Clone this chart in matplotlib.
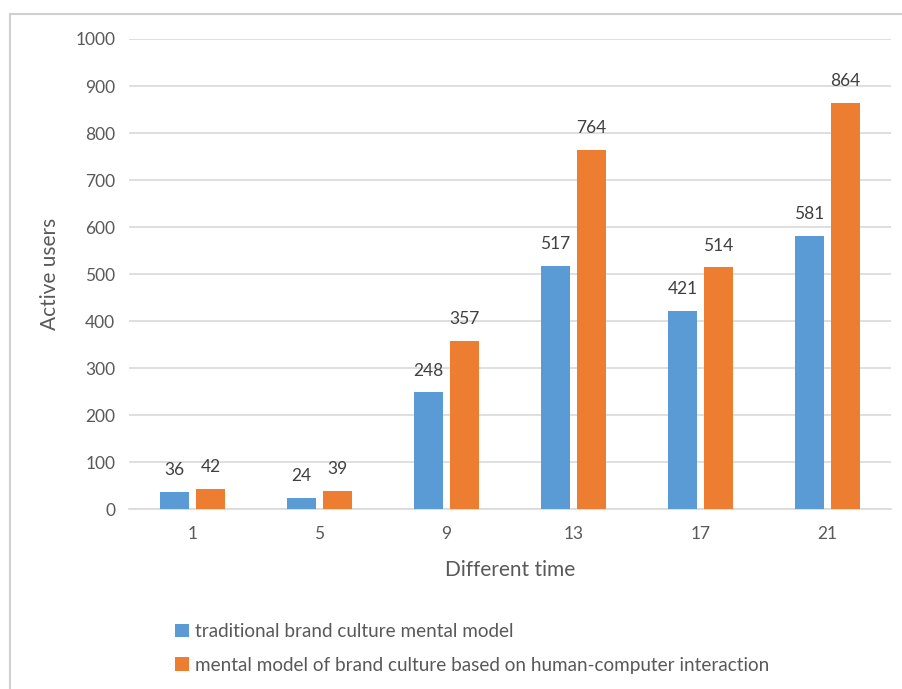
import numpy as np
import matplotlib
matplotlib.use("Agg")
import matplotlib.pyplot as plt
from matplotlib.patches import Rectangle

plt.rcParams['font.family'] = ['Lato', 'DejaVu Sans']

# Datos de usuarios activos por tiempo
tiempos = ['1', '5', '9', '13', '17', '21']
tradicional = [36, 24, 248, 517, 421, 581]
interaccion = [42, 39, 357, 764, 514, 864]

nombres = ['traditional brand culture mental model',
           'mental model of brand culture based on human-computer interaction']
azul = '#5b9bd5'
naranja = '#ed7d31'
gris = '#595959'

fig = plt.figure(figsize=(9.03, 6.89), dpi=100)
ax = fig.add_axes([0.1429, 0.2612, 0.8438, 0.6822])

# Marco del grafico
fig.patches.append(Rectangle((10 / 903, -0.1), 1.2, (689 - 14) / 689 + 0.1,
                             transform=fig.transFigure, fill=False,
                             edgecolor='#d0d0d0', linewidth=1.5))

x = np.arange(len(tiempos))
ancho = 0.228
sep = 0.028

b1 = ax.bar(x - ancho / 2 - sep, tradicional, ancho, color=azul, label=nombres[0], zorder=3)
b2 = ax.bar(x + ancho / 2 + sep, interaccion, ancho, color=naranja, label=nombres[1], zorder=3)

for barras in (b1, b2):
    for b in barras:
        ax.annotate(str(int(b.get_height())),
                    (b.get_x() + b.get_width() / 2, b.get_height()),
                    xytext=(0, 10), textcoords='offset points',
                    ha='center', va='bottom', fontsize=12.5, color='#404040')

ax.set_xlim(-0.5, len(tiempos) - 0.5)
ax.set_ylim(0, 1000)
ax.set_yticks(np.arange(0, 1001, 100))
ax.set_xticks(x)
ax.set_xticklabels(tiempos)
ax.tick_params(axis='both', length=0, labelsize=12.5, colors=gris)
ax.tick_params(axis='x', pad=12)
ax.tick_params(axis='y', pad=10)

ax.grid(axis='y', color='#d9d9d9', linewidth=1.2, zorder=0)
for s in ['top', 'right', 'left']:
    ax.spines[s].set_visible(False)
ax.spines['bottom'].set_color('#d9d9d9')
ax.spines['bottom'].set_linewidth(1.2)

ax.set_xlabel('Different time', fontsize=15, color=gris, labelpad=13)
ax.set_ylabel('Active users', fontsize=15, color=gris, labelpad=11)

ax.legend(loc='upper left', bbox_to_anchor=(166 / 903, (689 - 614) / 689),
          bbox_transform=fig.transFigure, frameon=False, fontsize=13.6,
          labelcolor=gris, handlelength=0.7, handleheight=0.7,
          handletextpad=0.35, labelspacing=0.85, borderpad=0)

fig.savefig('out.png', dpi=100, facecolor='white')
